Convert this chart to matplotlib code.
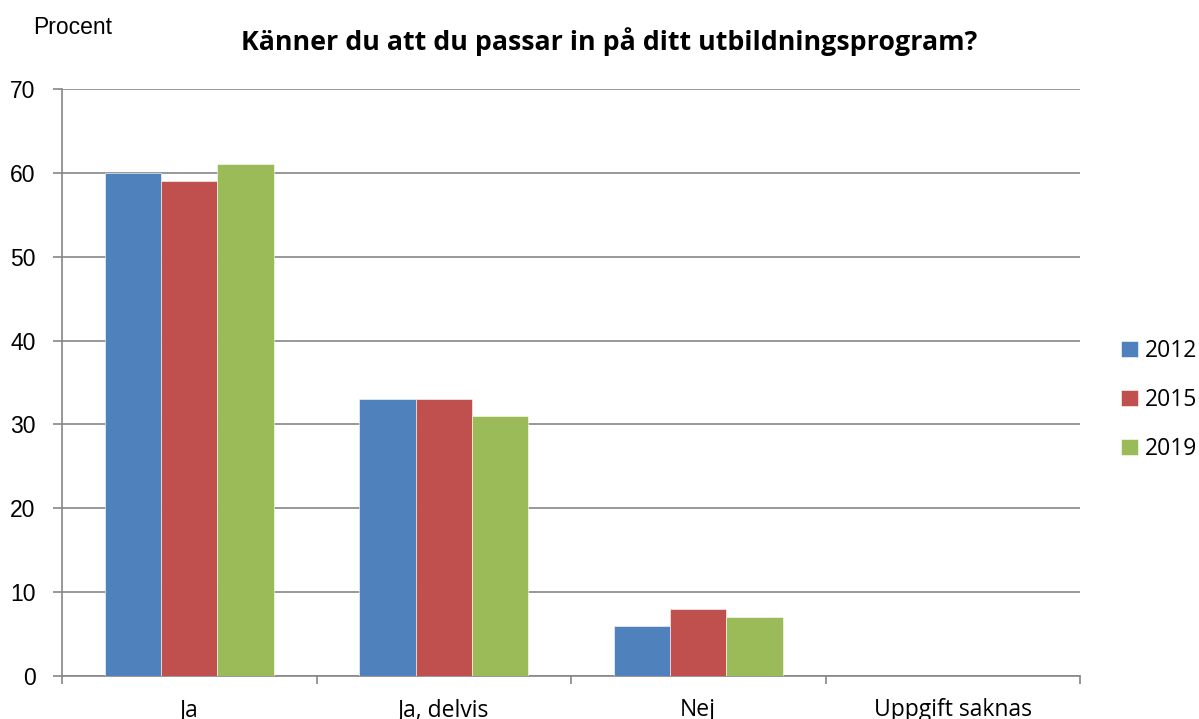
import matplotlib
matplotlib.use("Agg")
import matplotlib.pyplot as plt
import numpy as np

categories = ["Ja", "Ja, delvis", "Nej", "Uppgift saknas"]
series_names = ["2012", "2015", "2019"]
values_2012 = [60, 33, 6, 0]
values_2015 = [59, 33, 8, 0]
values_2019 = [61, 31, 7, 0]
colors = ["#4F81BD", "#C0504D", "#9BBB59"]
yticks = [0, 10, 20, 30, 40, 50, 60, 70]

fig = plt.figure(figsize=(11.99, 7.19), dpi=100)
ax = fig.add_axes([62/1199, 43/719, (1080-62)/1199, (676-89)/719])

x = np.arange(len(categories))
w = 0.222
for i, (vals, name, c) in enumerate(zip([values_2012, values_2015, values_2019], series_names, colors)):
    ax.bar(x + (i - 1) * w, vals, width=w, color=c, label=name, zorder=3,
           edgecolor="#ffffff", linewidth=0.4)

ax.set_xlim(-0.5, len(categories) - 0.5)
ax.set_ylim(0, 70)
ax.set_yticks(yticks)
ax.set_yticklabels([str(t) for t in yticks], fontsize=16.5, family="Liberation Sans")
ax.set_xticks(x)
ax.set_xticklabels(categories, fontsize=16.5, family="Open Sans")
ax.set_xticks(np.arange(-0.5, len(categories)), minor=True)
ax.tick_params(axis="x", which="major", length=0, pad=16)
ax.tick_params(axis="x", which="minor", length=5.5, color="#868686", width=1.2)
ax.tick_params(axis="y", length=6.5, color="#868686", width=1.2, pad=12.5)
ax.grid(axis="y", color="#868686", linewidth=1.2, zorder=0)
for s in ["top", "right"]:
    ax.spines[s].set_visible(False)
for s in ["left", "bottom"]:
    ax.spines[s].set_color("#868686")
    ax.spines[s].set_linewidth(1.2)

fig.text(33/1199, 1 - 34/719, "Procent", fontsize=16.5, family="Liberation Sans", va="baseline", ha="left")
fig.text(609/1199, 1 - 42/719, "Känner du att du passar in på ditt utbildningsprogram?",
         fontsize=19.3, fontweight="bold", family="Open Sans", ha="center", va="center")

leg = fig.legend(loc="center left", bbox_to_anchor=(1121/1199, 1 - 400/719), frameon=False,
                 prop={"family": "Open Sans", "size": 16.5}, handlelength=0.72, handleheight=0.72,
                 handletextpad=0.3, labelspacing=1.1, borderaxespad=0, borderpad=0)

fig.savefig("out.png", dpi=100)
